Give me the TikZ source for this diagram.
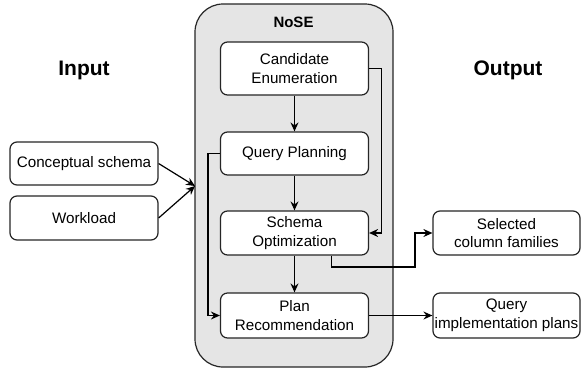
\documentclass[tikz,border=0pt]{standalone}
\usepackage{fontspec}
\setmainfont{Liberation Sans}
\usetikzlibrary{arrows.meta,calc}
\begin{document}
\begin{tikzpicture}[x=1pt,y=-1pt,
  box/.style={draw=black!85,line width=1.2pt,rounded corners=7pt,fill=white,align=center,
    font=\fontsize{15.2}{18.5}\selectfont,inner sep=0pt,minimum width=148pt},
  conn/.style={draw=black,line width=1.2pt,-{Stealth[length=9pt,width=8pt,inset=3pt]}},
  title/.style={font=\bfseries\fontsize{21}{25}\selectfont}]
\useasboundingbox (0,0) rectangle (581,368);
\fill[white] (0,0) rectangle (581,368);
\node[draw=black!85,line width=1.2pt,fill=black!10,rounded corners=28pt,
  minimum width=198pt,minimum height=363pt,inner sep=0pt] (nose) at (294,185.5) {};
\node[font=\bfseries\fontsize{15}{18}\selectfont] (nosel) at (293.5,22) {NoSE};
\node[title] (in) at (84,70) {Input};
\node[title] (out) at (508,70) {Output};
\node[box,minimum height=53pt] (ce) at (294.5,68.5) {Candidate\\Enumeration};
\node[box,minimum height=43pt] (qp) at (294.5,153.5) {Query Planning};
\node[box,minimum height=44pt] (so) at (294.5,233) {Schema\\Optimization};
\node[box,minimum height=45pt] (pr) at (294.5,315.5) {Plan\\Recommendation};
\node[box,minimum height=43pt] (cs) at (84,163.5) {Conceptual schema};
\node[box,minimum height=44pt] (wl) at (84,218) {Workload};
\node[box,minimum width=147pt,minimum height=44pt] (scf) at (506.5,233) {Selected\\column families};
\node[box,minimum width=147pt,minimum height=45pt] (qip) at (506.5,315.5) {Query\\implementation plans};
\coordinate (tip) at (195,186);
\coordinate (j) at (415,267);
\draw[conn] (cs.east) -- (tip);
\draw[conn] (wl.east) -- (tip);
\draw[conn] (ce.south) -- (qp.north);
\draw[conn] (qp.south) -- (so.north);
\draw[conn] (so.south) -- (pr.north);
\draw[conn] (ce.east) -- ++(12,0) |- (so.east);
\draw[conn] (qp.west) -- ++(-12,0) |- (pr.west);
\draw[conn] ([xshift=37pt]so.south) |- (j) |- (scf.west);
\draw[conn] (pr.east) -- (qip.west);
\end{tikzpicture}
\end{document}
